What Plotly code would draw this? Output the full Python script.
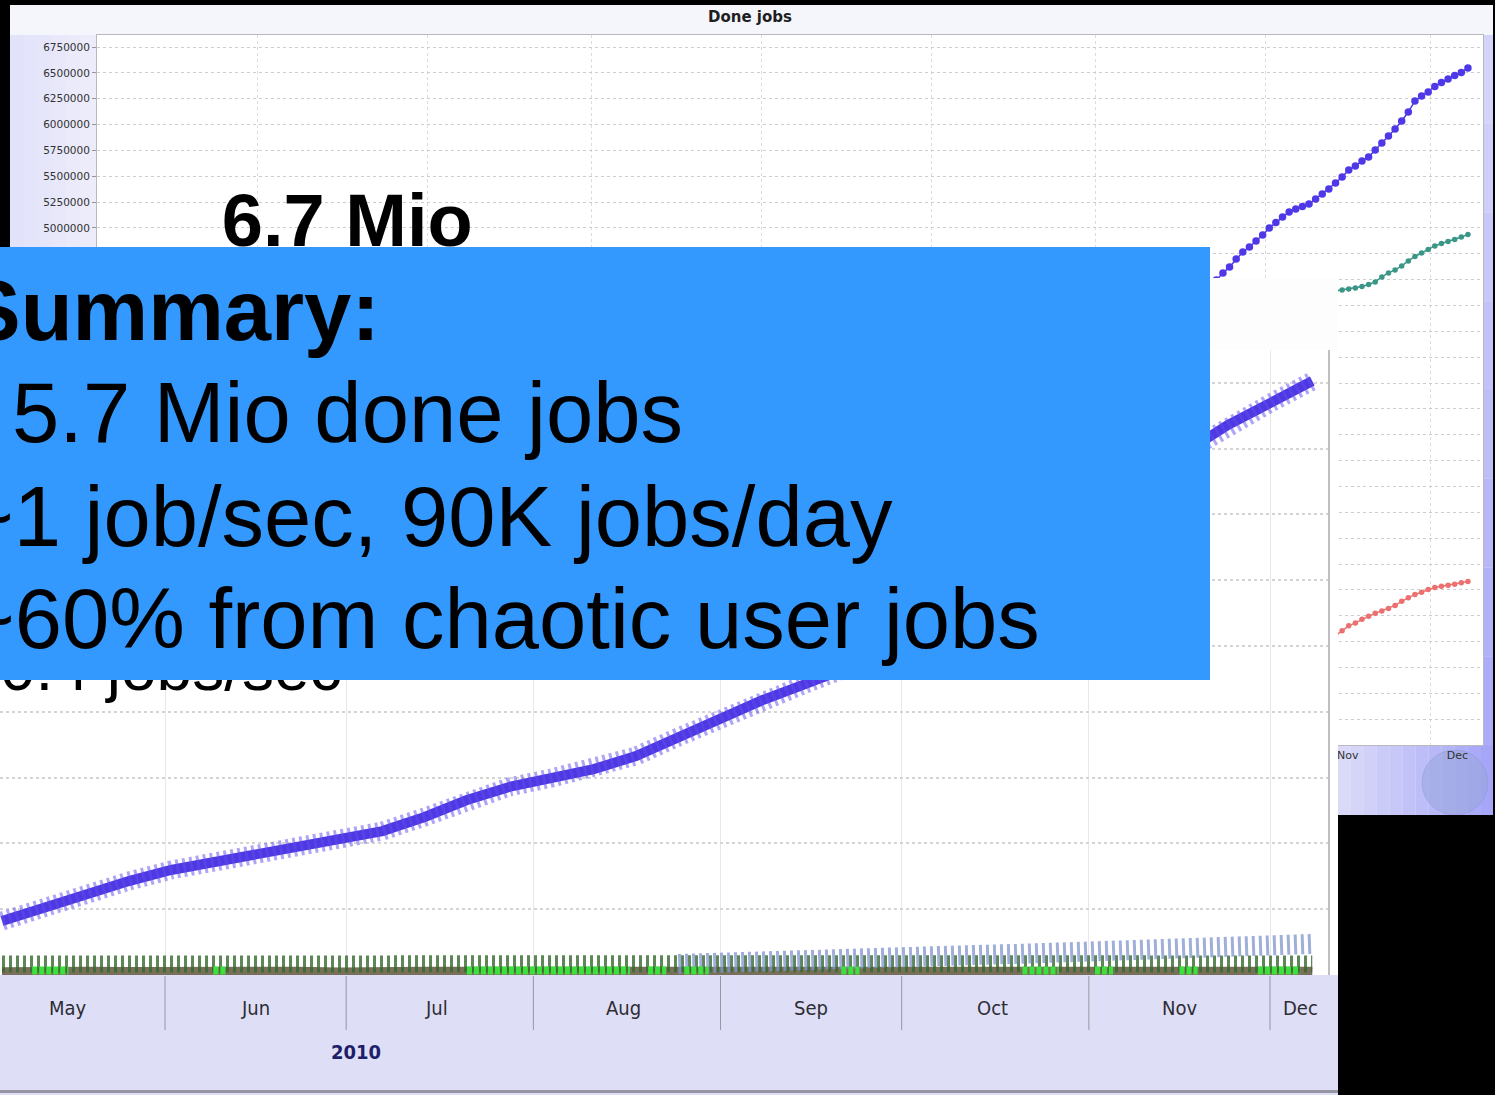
import plotly.graph_objects as go
import pandas as pd

W, H = 1495, 1095

# ---------------- back chart: "Done jobs" ----------------
back_title = "Done jobs"
back_end = "2010-12-07 22:00"
back_step = "29h"
back_blue = [4360000, 4430000, 4497000, 4565000, 4623000, 4700000, 4768000, 4816000,
             4874000, 4932000, 5000000, 5053000, 5106000, 5155000, 5184000, 5208000,
             5232000, 5280000, 5329000, 5377000, 5435000, 5493000, 5561000, 5599000,
             5648000, 5687000, 5754000, 5822000, 5890000, 5957000, 6035000, 6122000,
             6228000, 6276000, 6315000, 6368000, 6407000, 6441000, 6474000, 6503000,
             6547000]
back_teal = [4381000, 4391000, 4400000, 4410000, 4420000, 4434000, 4454000, 4478000,
             4526000, 4565000, 4594000, 4633000, 4681000, 4724000, 4758000, 4792000,
             4826000, 4850000, 4870000, 4889000, 4913000, 4937000]
back_red = [1010000, 1055000, 1104000, 1152000, 1181000, 1215000, 1244000, 1273000,
            1297000, 1321000, 1350000, 1389000, 1423000, 1456000, 1477000, 1504000,
            1524000, 1535000, 1545000, 1555000, 1570000, 1582000]
back_yticks = list(range(0, 6750001, 250000))
back_ytext = [str(v) if v >= 5000000 else "" for v in back_yticks]   # lower ones are hidden
back_month_labels = ["Nov", "Dec"]
back_label_dates = ["2010-11-16", "2010-12-06"]
month_starts = ["2010-05-01", "2010-06-01", "2010-07-01", "2010-08-01", "2010-09-01",
                "2010-10-01", "2010-11-01", "2010-12-01"]

# ---------------- front chart ----------------
front_dates = pd.date_range("2010-05-05", "2010-12-08", freq="7D")
front_blue = [410000, 517000, 623000, 714000, 798000, 859000, 912000, 973000,
              1041000, 1094000, 1201000, 1330000, 1429000, 1497000, 1565000, 1664000,
              1809000, 1953000, 2090000, 2211000, 2333000, 2508000, 2698000, 2895000,
              3100000, 3306000, 3518000, 3731000, 3974000, 4179000, 4346000, 4514000]
front_base = [52000, 55000, 55000, 54000, 55000, 55000, 53000, 55000,
              50000, 55000, 55000, 56000, 55000, 55000, 56000, 55000,
              55000, 56000, 55000, 55000, 56000, 55000, 55000, 56000,
              55000, 55000, 56000, 55000, 55000, 56000, 55000, 55000]
front_dark = [84000, 86000, 86000, 85000, 86000, 86000, 85000, 84000,
              72000, 86000, 87000, 87000, 86000, 87000, 86000, 86000,
              85000, 86000, 85000, 86000, 84000, 85000, 86000, 85000,
              86000, 85000, 86000, 85000, 84000, 85000, 85000, 84000]
front_slate_dates = front_dates[16:]
front_slate = [84000, 99000, 106000, 129000, 137000, 144000, 152000, 152000,
               160000, 167000, 182000, 205000, 220000, 228000, 236000, 236000]
green_dates = ["2010-05-10", "2010-05-16", None, "2010-06-09", "2010-06-11", None,
               "2010-07-21", "2010-08-17", None, "2010-08-20", "2010-08-23", None,
               "2010-08-26", "2010-08-30", None, "2010-09-21", "2010-09-24", None,
               "2010-10-21", "2010-10-27", None, "2010-11-02", "2010-11-05", None,
               "2010-11-16", "2010-11-19", None, "2010-11-29", "2010-12-06"]
green_vals = [35000, 35000, None, 35000, 35000, None, 35000, 35000, None,
              35000, 35000, None, 35000, 35000, None, 35000, 35000, None,
              35000, 35000, None, 35000, 35000, None, 35000, 35000, None,
              35000, 35000]
front_month_labels = ["May", "Jun", "Jul", "Aug", "Sep", "Oct", "Nov", "Dec"]
front_label_dates = ["2010-05-16", "2010-06-16", "2010-07-16", "2010-08-16",
                     "2010-09-16", "2010-10-16", "2010-11-16", "2010-12-06"]
front_year = "2010"

# ---------------- slide texts ----------------
summary_lines = ["Summary:", "5.7 Mio done jobs", "~1 job/sec, 90K jobs/day",
                 "~60% from chaotic user jobs"]
note_top = "6.7 Mio"
note_bottom = "0.4 jobs/sec"


def px(x):
    return x / W


def py(y):
    return 1 - y / H


ARIAL = "Liberation Sans, Arial, sans-serif"
NARROW = "DejaVu Sans Condensed, Liberation Sans Narrow, Arial Narrow, sans-serif"

fig = go.Figure()

# back chart series
for vals, col, ms in [(back_red, "rgb(236,112,112)", 5.5),
                      (back_teal, "rgb(58,150,135)", 5.5),
                      (back_blue, "rgb(78,56,232)", 7.5)]:
    d = pd.date_range(end=back_end, periods=len(vals), freq=back_step)
    fig.add_trace(go.Scatter(x=d, y=vals, mode="lines+markers", xaxis="x", yaxis="y",
                             line=dict(color=col, width=1.5),
                             marker=dict(color=col, size=ms),
                             hoverinfo="skip", showlegend=False))

# slide text under the box, on top of back chart
fig.add_trace(go.Scatter(x=["2010-05-17 10:00"], y=[5005000], mode="text", text=[note_top],
                         textposition="middle center", cliponaxis=False,
                         textfont=dict(family=ARIAL, size=74, color="black", weight="bold"),
                         xaxis="x", yaxis="y", hoverinfo="skip", showlegend=False))

# front frame subplot (empty)
fig.add_trace(go.Scatter(x=[], y=[], xaxis="x2", yaxis="y2", hoverinfo="skip",
                         showlegend=False))

# front chart series
fig.add_trace(go.Scatter(x=front_dates, y=front_base, mode="lines", fill="tozeroy",
                         line=dict(color="rgb(120,112,90)", width=2),
                         fillcolor="rgb(120,112,90)",
                         xaxis="x3", yaxis="y3", hoverinfo="skip", showlegend=False))
fig.add_trace(go.Scatter(x=front_dates, y=front_dark, mode="lines",
                         line=dict(color="rgba(52,105,45,0.8)", width=17, dash="3px,4px"),
                         xaxis="x3", yaxis="y3", hoverinfo="skip", showlegend=False))
fig.add_trace(go.Scatter(x=front_slate_dates, y=front_slate, mode="lines",
                         line=dict(color="rgba(128,148,205,0.75)", width=20, dash="3px,4px"),
                         xaxis="x3", yaxis="y3", hoverinfo="skip", showlegend=False))
fig.add_trace(go.Scatter(x=green_dates, y=green_vals, mode="lines", connectgaps=False,
                         line=dict(color="rgb(60,225,60)", width=8, dash="5px,2px"),
                         xaxis="x3", yaxis="y3", hoverinfo="skip", showlegend=False))
fig.add_trace(go.Scatter(x=front_dates, y=front_blue, mode="lines",
                         line=dict(color="rgb(78,56,228)", width=10),
                         xaxis="x3", yaxis="y3", hoverinfo="skip", showlegend=False))
fig.add_trace(go.Scatter(x=front_dates, y=front_blue, mode="lines",
                         line=dict(color="rgba(95,75,235,0.5)", width=19, dash="3px,4px"),
                         xaxis="x3", yaxis="y3", hoverinfo="skip", showlegend=False))
fig.add_trace(go.Scatter(x=["2010-05-04 16:00"], y=[2290000], mode="text", text=[note_bottom],
                         textposition="middle right", cliponaxis=False,
                         textfont=dict(family=ARIAL, size=64, color="black"),
                         xaxis="x3", yaxis="y3", hoverinfo="skip", showlegend=False))

shapes = []
# back chart frame
shapes.append(dict(type="rect", xref="paper", yref="paper", x0=px(10), x1=px(1493),
                   y0=py(815), y1=py(5), fillcolor="rgb(236,236,251)", line_width=0,
                   layer="below"))
for i in range(6):
    shapes.append(dict(type="rect", xref="paper", yref="paper", x0=px(10 + i * 14),
                       x1=px(24 + i * 14), y0=py(815), y1=py(35),
                       fillcolor="rgb(%d,%d,250)" % (226 + i * 2, 226 + i * 2),
                       line_width=0, layer="below"))
shapes.append(dict(type="rect", xref="paper", yref="paper", x0=px(10), x1=px(1493),
                   y0=py(35), y1=py(5), fillcolor="rgb(245,245,252)", line_width=0,
                   layer="below"))
nstrip = 12
for i in range(nstrip):
    c = int(218 - 52 * i / (nstrip - 1))
    shapes.append(dict(type="rect", xref="paper", yref="paper",
                       x0=px(1338 + i * 155 / nstrip), x1=px(1338 + (i + 1) * 155 / nstrip),
                       y0=py(815), y1=py(745), fillcolor="rgb(%d,%d,248)" % (c, c),
                       line_width=0, layer="below"))
for j in range(8):
    c = int(212 - 40 * j / 7)
    shapes.append(dict(type="rect", xref="paper", yref="paper", x0=px(1483), x1=px(1493),
                       y0=py(35 + (j + 1) * 710 / 8), y1=py(35 + j * 710 / 8),
                       fillcolor="rgb(%d,%d,248)" % (c, c), line_width=0, layer="below"))
# back plot area (white)
shapes.append(dict(type="rect", xref="paper", yref="paper", x0=px(97), x1=px(1483),
                   y0=py(745), y1=py(35), fillcolor="white", line_width=0, layer="below"))
shapes.append(dict(type="circle", xref="paper", yref="paper", x0=px(1422), x1=px(1488),
                   y0=py(815), y1=py(750), fillcolor="rgba(150,165,215,0.5)",
                   line=dict(color="rgba(130,140,200,0.35)", width=1), layer="below"))
shapes.append(dict(type="rect", xref="paper", yref="paper", x0=px(1338), x1=px(1495),
                   y0=py(1095), y1=py(815), fillcolor="black", line_width=0, layer="below"))

# front chart frame (in x2/y2 pixel space)
shapes.append(dict(type="rect", xref="x2", yref="y2", x0=0, x1=1338, y0=975, y1=1095,
                   fillcolor="rgb(222,222,247)", line_width=0))
shapes.append(dict(type="rect", xref="x2", yref="y2", x0=0, x1=1338, y0=1090, y1=1093,
                   fillcolor="rgb(150,150,165)", line_width=0))
shapes.append(dict(type="rect", xref="x2", yref="y2", x0=0, x1=1338, y0=278, y1=350,
                   fillcolor="rgb(253,253,253)", line_width=0))
# front month separators in the axis band
for m in month_starts[1:]:
    shapes.append(dict(type="line", xref="x3", yref="paper", x0=m, x1=m,
                       y0=py(1030), y1=py(976), line=dict(color="rgb(150,150,160)", width=1),
                       layer="above"))

# summary box (above everything except annotations)
shapes.append(dict(type="rect", xref="paper", yref="paper", x0=px(0), x1=px(1210),
                   y0=py(680), y1=py(247), fillcolor="rgb(51,153,255)", line_width=0,
                   layer="above"))

annotations = [
    dict(text="<b>%s</b>" % back_title, x=px(750), y=py(17), xref="paper", yref="paper",
         xanchor="center", yanchor="middle", showarrow=False,
         font=dict(family="DejaVu Sans", size=15, color="rgb(30,30,30)")),
    dict(text="<b>%s</b>" % front_year, x=px(356), y=py(1052), xref="paper", yref="paper",
         xanchor="center", yanchor="middle", showarrow=False,
         font=dict(family=NARROW, size=20, color="rgb(30,30,105)")),
]
for lab, d in zip(front_month_labels, front_label_dates):
    annotations.append(dict(text=lab, x=d, y=py(1008), xref="x3", yref="paper",
                            xanchor="center", yanchor="middle", showarrow=False,
                            font=dict(family=NARROW, size=20, color="rgb(45,45,50)")))
line_right = [382, 685, 895, 1042]
line_mid = [310, 413, 516, 618]
for k, t in enumerate(summary_lines):
    annotations.append(dict(text=("<b>%s</b>" % t) if k == 0 else t,
                            x=px(line_right[k]), y=py(line_mid[k]), xref="paper",
                            yref="paper", xanchor="right", yanchor="middle",
                            showarrow=False,
                            font=dict(family=ARIAL, size=85, color="black")))

grid_dot = "rgb(205,205,205)"
fig.update_layout(
    width=W, height=H, margin=dict(l=0, r=0, t=0, b=0),
    paper_bgcolor="black", plot_bgcolor="white", showlegend=False,
    shapes=shapes, annotations=annotations,
    xaxis=dict(domain=[px(97), px(1483)], anchor="y", type="date",
               range=["2010-04-01 18:00", "2010-12-10 16:00"],
               tickmode="array", tickvals=back_label_dates, ticktext=back_month_labels,
               ticks="", showgrid=False, zeroline=False,
               tickfont=dict(family="DejaVu Sans", size=11, color="rgb(50,50,50)"),
               showline=True, mirror=True, linecolor="rgb(185,185,190)", linewidth=1,
               minor=dict(tickmode="array", tickvals=month_starts, showgrid=True,
                          gridcolor="rgb(220,220,220)", griddash="dot", ticks="")),
    yaxis=dict(domain=[py(745), py(35)], anchor="x", range=[0, 6866000],
               tickmode="array", tickvals=back_yticks, ticktext=back_ytext,
               ticks="outside", ticklen=4, tickcolor="rgb(150,150,150)",
               showgrid=True, gridcolor=grid_dot, griddash="dot", zeroline=False,
               tickfont=dict(family="DejaVu Sans", size=10.5, color="rgb(50,50,50)"),
               showline=True, mirror=True, linecolor="rgb(185,185,190)", linewidth=1),
    xaxis2=dict(domain=[0, px(1338)], anchor="y2", range=[0, 1338], visible=False,
                fixedrange=True),
    yaxis2=dict(domain=[0, py(278)], anchor="x2", range=[1095, 278], visible=False,
                fixedrange=True),
    xaxis3=dict(domain=[0, px(1328)], anchor="y3", type="date",
                range=["2010-05-04 16:00", "2010-12-10 14:30"],
                showticklabels=False, ticks="", showgrid=False, zeroline=False,
                showline=True, mirror=True, linecolor="rgb(170,170,175)", linewidth=1.5,
                minor=dict(tickmode="array", tickvals=month_starts, showgrid=True,
                           gridcolor="rgb(232,232,232)", ticks="")),
    yaxis3=dict(domain=[py(975), py(350)], anchor="x3", range=[0, 4750000],
                tickmode="linear", tick0=0, dtick=500000, showticklabels=False,
                ticks="", showgrid=True, gridcolor="rgb(212,212,212)", griddash="dot",
                gridwidth=2, zeroline=False,
                showline=True, mirror=True, linecolor="rgb(190,190,195)", linewidth=1.5),
)

fig.write_html("out.html", config={"displayModeBar": False},
               post_script="document.body.style.margin='0px';")
